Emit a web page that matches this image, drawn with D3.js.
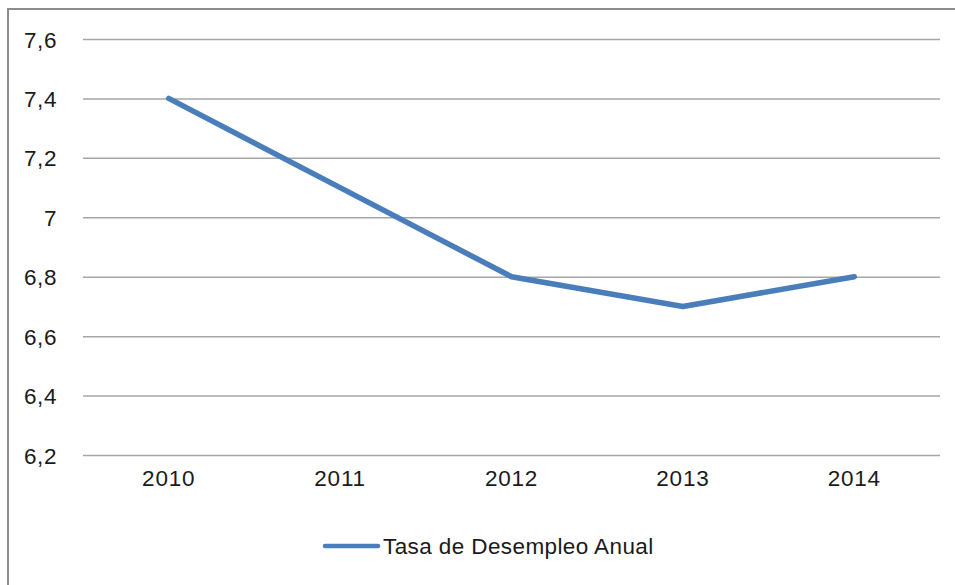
<!DOCTYPE html>
<html>
<head>
<meta charset="utf-8">
<script src="https://cdn.jsdelivr.net/npm/d3@7"></script>
<style>
  body { margin: 0; background: #fff; }
  svg text { font-family: "Liberation Sans", Arial, sans-serif; fill: #1a1a1a; }
</style>
</head>
<body>
<div id="chart"></div>
<script>
// data
const years = ['2010', '2011', '2012', '2013', '2014']
const tasa = [7.4, 7.1, 6.8, 6.7, 6.8]
const yTicks = [6.2, 6.4, 6.6, 6.8, 7, 7.2, 7.4, 7.6]
const seriesName = 'Tasa de Desempleo Anual'

const W = 955
const H = 585
const plot = { left: 83, right: 940, top: 39, bottom: 455 }

const svg = d3.select('#chart')
  .append('svg')
  .attr('width', W)
  .attr('height', H)

// outer chart border (runs off the right/bottom edge)
svg.append('rect')
  .attr('x', 8)
  .attr('y', 9)
  .attr('width', 1000)
  .attr('height', 1000)
  .attr('fill', 'none')
  .attr('stroke', '#8c8c8c')
  .attr('stroke-width', 2)

const x = d3.scaleBand()
  .domain(years)
  .range([plot.left, plot.right])

const y = d3.scaleLinear()
  .domain([6.2, 7.6])
  .range([plot.bottom, plot.top])

const fmt = d => String(+d.toFixed(1)).replace('.', ',')

// gridlines + y labels
const yAxis = svg.append('g')
  .attr('transform', 'translate(' + plot.left + ',0)')
  .call(d3.axisLeft(y)
    .tickValues(yTicks)
    .tickFormat(fmt)
    .tickSize(-(plot.right - plot.left))
    .tickPadding(26))
yAxis.select('.domain').remove()
yAxis.selectAll('.tick line')
  .attr('stroke', '#a6a6a6')
  .attr('stroke-width', 1.5)
yAxis.selectAll('.tick text')
  .style('font-size', '22.5px')
  .style('letter-spacing', '0.6px')
  .attr('dy', '0.36em')

// x labels
const xAxis = svg.append('g')
  .attr('transform', 'translate(0,' + plot.bottom + ')')
  .call(d3.axisBottom(x).tickSize(0).tickPadding(15))
xAxis.select('.domain').remove()
xAxis.selectAll('.tick text')
  .style('font-size', '22.5px')
  .style('letter-spacing', '0.8px')

// the line
const line = d3.line()
  .x((d, i) => x(years[i]) + x.bandwidth() / 2)
  .y(d => y(d))

svg.append('path')
  .datum(tasa)
  .attr('d', line)
  .attr('fill', 'none')
  .attr('stroke', '#4a7ebb')
  .attr('stroke-width', 5.5)
  .attr('stroke-linejoin', 'round')
  .attr('stroke-linecap', 'round')

// legend
const legend = svg.append('g')
  .attr('transform', 'translate(325,546)')
legend.append('line')
  .attr('x1', 0)
  .attr('x2', 53)
  .attr('stroke', '#4a7ebb')
  .attr('stroke-width', 4.5)
  .attr('stroke-linecap', 'round')
legend.append('text')
  .attr('x', 58)
  .attr('dy', '0.36em')
  .style('font-size', '22.5px')
  .style('letter-spacing', '0.4px')
  .text(seriesName)
</script>
</body>
</html>
